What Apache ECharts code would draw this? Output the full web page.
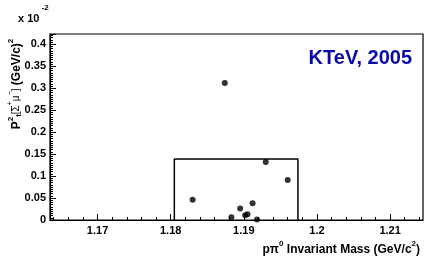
<!DOCTYPE html>
<html><head><meta charset="utf-8">
<script src="https://cdn.jsdelivr.net/npm/echarts@6/dist/echarts.min.js"></script>
<style>html,body{margin:0;padding:0;background:#fff}#c{width:432px;height:263px}</style>
</head><body><div id="c"></div>
<script>
// Data (invariant mass GeV/c^2, Pt^2 in units of 1e-2 (GeV/c)^2)
const massValues = [1.1874, 1.1930, 1.1960, 1.1830, 1.1895, 1.1912, 1.1902, 1.1905, 1.1883, 1.1918];
const pt2Values  = [0.312, 0.132, 0.091, 0.046, 0.026, 0.038, 0.011, 0.013, 0.006, 0.001];
const boxMass = [1.1805, 1.1974];
const boxPt2 = [0, 0.139];
const xTickLabels = [1.17, 1.18, 1.19, 1.20, 1.21];
const xMinorTicks = [1.164,1.166,1.168,1.172,1.174,1.176,1.178,1.182,1.184,1.186,1.188,1.192,1.194,1.196,1.198,1.202,1.204,1.206,1.208,1.212,1.214];
const xRange = [1.1635, 1.2145];
const yRange = [0, 0.4235];

const font = '"Liberation Sans", Arial, sans-serif';
const chart = echarts.init(document.getElementById('c'), null, {renderer: 'canvas'});
const boxLine = [[boxMass[0], boxPt2[0]], [boxMass[0], boxPt2[1]], [boxMass[1], boxPt2[1]], [boxMass[1], boxPt2[0]]];

chart.setOption({
  animation: false,
  grid: {left: 50, top: 34, right: 9, bottom: 43, show: true, borderColor: '#000', borderWidth: 1.2, backgroundColor: 'transparent'},
  xAxis: [{
    type: 'value', min: xRange[0], max: xRange[1], position: 'bottom',
    axisLine: {show: true, onZero: false, lineStyle: {color: '#000', width: 1.2}},
    axisTick: {show: true, inside: true, length: 6, customValues: xTickLabels, lineStyle: {color: '#000'}},
    axisLabel: {show: true, customValues: xTickLabels, color: '#000', fontFamily: font, fontWeight: 'bold', fontSize: 11, margin: 5,
      formatter: v => String(+v.toFixed(2))},
    splitLine: {show: false}
  }, {
    type: 'value', min: xRange[0], max: xRange[1], position: 'bottom',
    axisLine: {show: false},
    axisTick: {show: true, inside: true, length: 3, customValues: xMinorTicks, lineStyle: {color: '#000'}},
    axisLabel: {show: false},
    splitLine: {show: false}
  }],
  yAxis: {
    type: 'value', min: yRange[0], max: yRange[1], interval: 0.05,
    axisLine: {show: true, onZero: false, lineStyle: {color: '#000', width: 1.2}},
    axisTick: {show: true, inside: true, length: 6, lineStyle: {color: '#000'}},
    minorTick: {show: true, splitNumber: 10, length: 3, lineStyle: {color: '#000'}},
    axisLabel: {color: '#000', fontFamily: font, fontWeight: 'bold', fontSize: 11, margin: 4},
    splitLine: {show: false}
  },
  graphic: [
    {type: 'text', left: 18, top: 4, style: {
      text: '{m|x 10}{s| -2}', fontFamily: font,
      rich: {m: {fontSize: 11, fontWeight: 'bold', fill: '#000', fontFamily: font, padding: [9, 0, 0, 0]},
             s: {fontSize: 8, fontWeight: 'bold', fill: '#000', fontFamily: font, verticalAlign: 'top'}}
    }},
    {type: 'text', x: 412, y: 58, style: {
      text: 'KTeV, 2005', align: 'right', verticalAlign: 'middle', fill: '#0a0aa5',
      fontFamily: font, fontWeight: 'bold', fontSize: 20
    }},
    {type: 'text', x: 420, y: 248, style: {
      text: '{m|pπ}{s|0}{m| Invariant Mass (GeV/c}{s|2}{m|)}', align: 'right', verticalAlign: 'middle',
      rich: {m: {fontSize: 12, fontWeight: 'bold', fill: '#000', fontFamily: font, padding: [4, 0, 0, 0]},
             s: {fontSize: 8, fontWeight: 'bold', fill: '#000', fontFamily: font, verticalAlign: 'top'}}
    }},
    {type: 'text', x: 15, y: 84, rotation: Math.PI / 2, style: {
      text: '{m|P}{s|2}{t|t}{n|[Σ}{s2|+}{n|μ}{s2|−}{n|]} {m|(GeV/c)}{s|2}', align: 'center', verticalAlign: 'middle',
      rich: {m: {fontSize: 12, fontWeight: 'bold', fill: '#000', fontFamily: font, padding: [4, 0, 0, 0]},
             s: {fontSize: 8, fontWeight: 'bold', fill: '#000', fontFamily: font, verticalAlign: 'top'},
             s2: {fontSize: 7, fill: '#000', fontFamily: font, verticalAlign: 'top'},
             t: {fontSize: 8, fontWeight: 'bold', fill: '#000', fontFamily: font, verticalAlign: 'bottom'},
             n: {fontSize: 10, fill: '#000', fontFamily: font, padding: [3, 0, 0, 0]}}
    }}
  ],
  series: [
    {type: 'line', data: boxLine, symbol: 'none', lineStyle: {color: '#000', width: 1.5}, silent: true, xAxisIndex: 0},
    {type: 'scatter', data: massValues.map((m, i) => [m, pt2Values[i]]), symbolSize: 6,
      itemStyle: {color: '#000'}, xAxisIndex: 0}
  ]
});
</script></body></html>
